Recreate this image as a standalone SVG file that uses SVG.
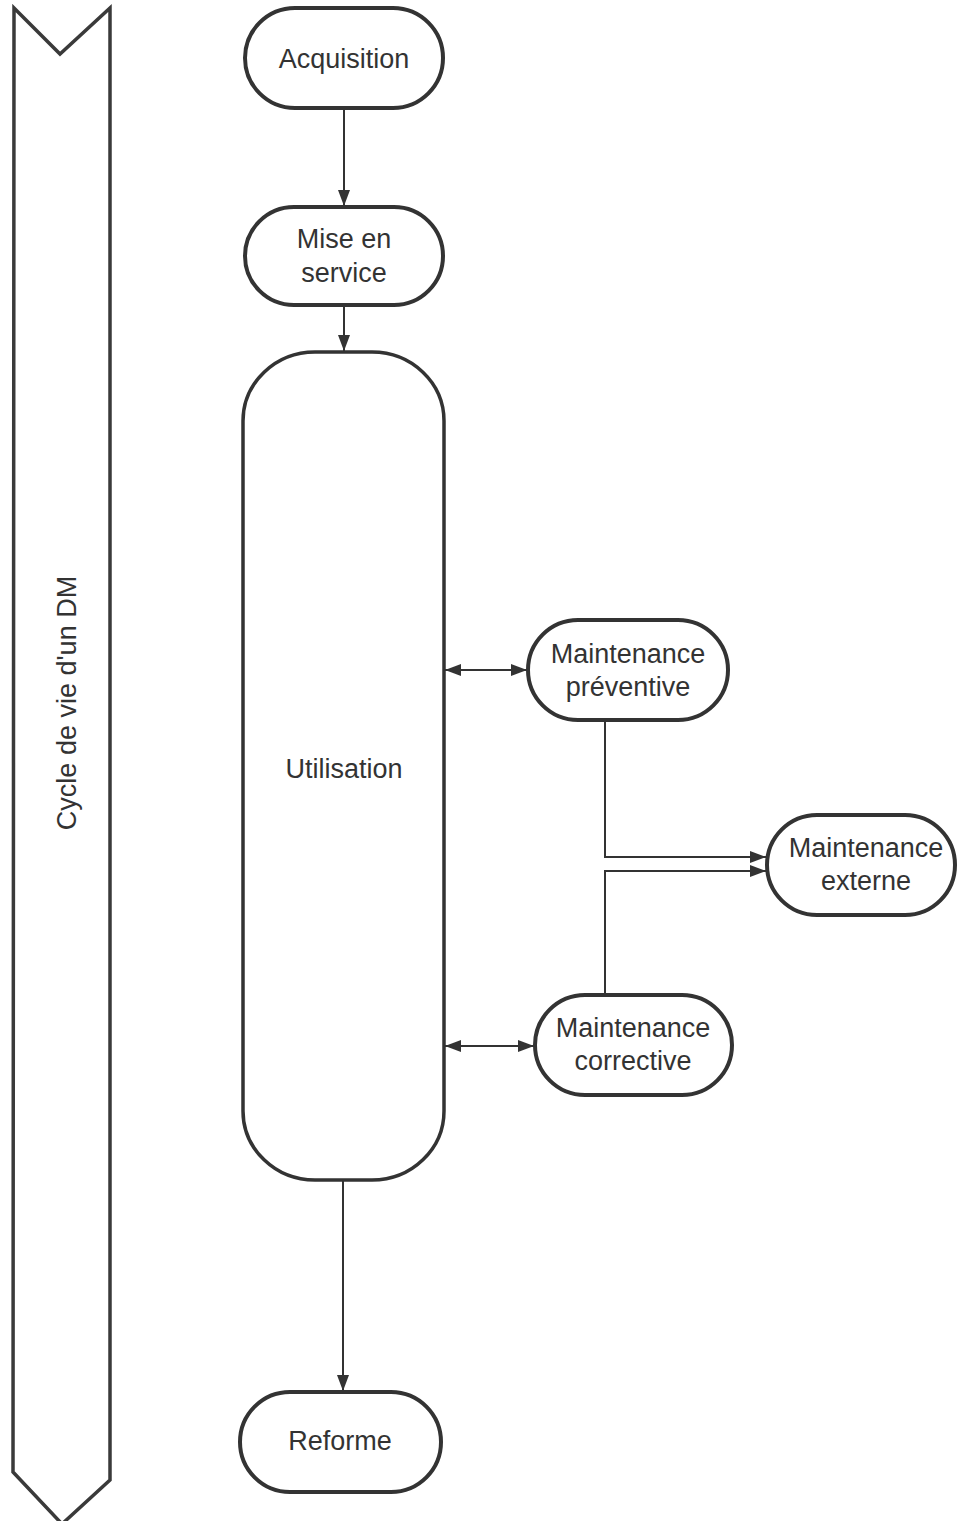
<svg xmlns="http://www.w3.org/2000/svg" width="957" height="1521" viewBox="0 0 957 1521">
  <style>
    .node { fill: #ffffff; stroke: #333333; stroke-width: 4; }
    .lbl { font-family: "Liberation Sans", Arial, sans-serif; font-size: 27px; fill: #333333; text-anchor: middle; }
    .edge { fill: none; stroke: #333333; stroke-width: 2; }
    .band { fill: none; stroke: #3a3a3a; stroke-width: 3.5; stroke-linejoin: miter; }
  </style>
  <defs>
    <marker id="arrowL" viewBox="0 0 10 10" refX="10" refY="5" markerWidth="16" markerHeight="12" markerUnits="userSpaceOnUse" orient="auto-start-reverse" preserveAspectRatio="none">
      <path d="M0,0 L10,5 L0,10 Z" fill="#333333"/>
    </marker>
  </defs>
  <rect width="957" height="1521" fill="#ffffff"/>

  <!-- lifecycle band on the left -->
  <g id="cycle">
    <path class="band" d="M14,8 L60,54 L110,8 L110,1480 L62,1524 L13,1472 Z"/>
    <text class="lbl" transform="translate(76,703) rotate(-90)">Cycle de vie d'un DM</text>
  </g>

  <!-- connectors -->
  <g id="connectors">
    <line class="edge" x1="344" y1="108" x2="344" y2="206" marker-end="url(#arrowL)"/>
    <line class="edge" x1="344" y1="305" x2="344" y2="351" marker-end="url(#arrowL)"/>
    <line class="edge" x1="445" y1="670" x2="527" y2="670" marker-start="url(#arrowL)" marker-end="url(#arrowL)"/>
    <line class="edge" x1="445" y1="1046" x2="534" y2="1046" marker-start="url(#arrowL)" marker-end="url(#arrowL)"/>
    <polyline class="edge" points="605,720 605,857 766,857" marker-end="url(#arrowL)"/>
    <polyline class="edge" points="605,995 605,871 766,871" marker-end="url(#arrowL)"/>
    <line class="edge" x1="343" y1="1180" x2="343" y2="1391" marker-end="url(#arrowL)"/>
  </g>

  <g id="acquisition">
    <rect class="node" x="245" y="8" width="198" height="100" rx="50" ry="50"/>
    <text class="lbl" x="344" y="68">Acquisition</text>
  </g>

  <g id="mise-en-service">
    <rect class="node" x="245" y="207" width="198" height="98" rx="49" ry="49"/>
    <text class="lbl" x="344" y="248">Mise en</text>
    <text class="lbl" x="344" y="282">service</text>
  </g>

  <g id="utilisation">
    <rect class="node" x="243" y="352" width="201" height="828" rx="72" ry="69" style="stroke-width:3.5"/>
    <text class="lbl" x="344" y="778">Utilisation</text>
  </g>

  <g id="maintenance-preventive">
    <rect class="node" x="528" y="620" width="200" height="100" rx="50" ry="50"/>
    <text class="lbl" x="628" y="663">Maintenance</text>
    <text class="lbl" x="628" y="696">préventive</text>
  </g>

  <g id="maintenance-externe">
    <rect class="node" x="767" y="815" width="188" height="100" rx="50" ry="50"/>
    <text class="lbl" x="866" y="857">Maintenance</text>
    <text class="lbl" x="866" y="890">externe</text>
  </g>

  <g id="maintenance-corrective">
    <rect class="node" x="535" y="995" width="197" height="100" rx="50" ry="50"/>
    <text class="lbl" x="633" y="1037">Maintenance</text>
    <text class="lbl" x="633" y="1070">corrective</text>
  </g>

  <g id="reforme">
    <rect class="node" x="240" y="1392" width="201" height="100" rx="50" ry="50"/>
    <text class="lbl" x="340" y="1450">Reforme</text>
  </g>
</svg>
